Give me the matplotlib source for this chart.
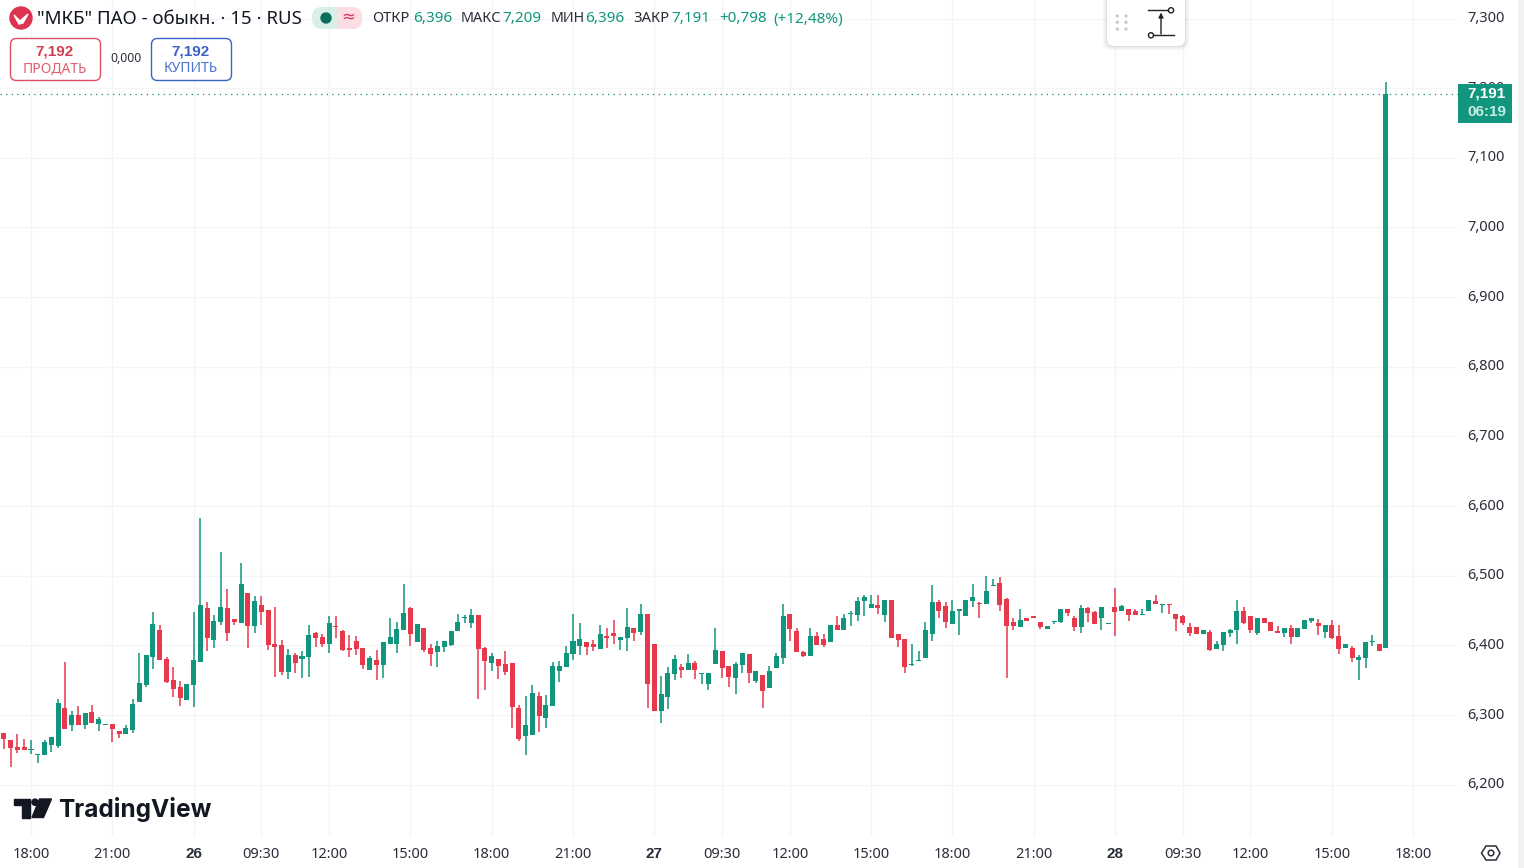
import numpy as np
import matplotlib
matplotlib.use('Agg')
from matplotlib import pyplot as plt
from matplotlib.patches import FancyBboxPatch, Circle, Polygon, Rectangle

plt.rcParams['font.family'] = ['Noto Sans', 'DejaVu Sans']

# prices in thousandths, one candle every 15 minutes
opens = [6274,6264,6254,6254,6250,6243,6243,6257,6255,6310,
         6286,6300,6286,6304,6287,6286,6287,6277,6273,6278,
         6319,6343,6383,6422,6380,6350,6340,6322,6343,6376,
         6454,6408,6433,6454,6438,6432,6475,6428,6458,6451,
         6402,6400,6362,6386,6380,6383,6418,6412,6402,6428,
         6420,6395,6406,6396,6365,6379,6372,6402,6402,6422,
         6453,6405,6425,6396,6390,6398,6400,6420,6439,6432,
         6443,6396,6375,6380,6373,6375,6310,6270,6272,6328,
         6296,6313,6363,6369,6388,6399,6405,6402,6395,6413,
         6418,6408,6410,6425,6419,6445,6402,6306,6326,6359,
         6369,6365,6375,6359,6345,6373,6392,6370,6353,6372,
         6388,6349,6358,6339,6368,6382,6445,6420,6390,6385,
         6413,6409,6405,6429,6422,6445,6443,6463,6453,6458,
         6443,6465,6416,6409,6372,6377,6382,6416,6462,6456,
         6430,6450,6442,6463,6460,6460,6485,6490,6466,6433,
         6426,6440,6441,6433,6423,6433,6433,6452,6439,6426,
         6453,6448,6439,6431,6455,6450,6452,6450,6444,6450,
         6463,6458,6459,6445,6442,6426,6426,6416,6419,6395,
         6400,6418,6422,6450,6442,6418,6439,6433,6420,6418,
         6425,6412,6423,6435,6432,6419,6429,6413,6396,6396,
         6379,6382,6405,6402,6396]
highs = [6274,6264,6273,6266,6264,6244,6264,6268,6323,6376,
         6306,6313,6303,6314,6297,6287,6287,6277,6286,6323,
         6389,6386,6448,6429,6383,6369,6349,6344,6448,6583,
         6462,6444,6534,6481,6438,6518,6475,6471,6471,6451,
         6455,6408,6395,6389,6392,6429,6419,6416,6442,6442,
         6422,6415,6413,6396,6385,6393,6405,6439,6433,6488,
         6455,6430,6425,6402,6406,6406,6420,6445,6443,6452,
         6444,6398,6389,6380,6392,6375,6315,6328,6343,6333,
         6329,6376,6378,6399,6445,6432,6405,6408,6429,6425,
         6436,6412,6453,6425,6460,6445,6402,6356,6369,6386,
         6373,6388,6378,6360,6360,6425,6392,6370,6376,6389,
         6388,6363,6358,6370,6389,6459,6445,6425,6392,6425,
         6419,6416,6429,6442,6445,6450,6470,6473,6473,6472,
         6465,6465,6416,6409,6402,6392,6433,6486,6465,6462,
         6465,6450,6465,6488,6462,6500,6496,6498,6468,6439,
         6452,6440,6441,6433,6428,6434,6452,6452,6442,6458,
         6455,6449,6455,6432,6483,6458,6452,6452,6452,6465,
         6473,6459,6459,6445,6443,6432,6426,6422,6422,6406,
         6419,6423,6465,6455,6442,6439,6439,6433,6428,6425,
         6429,6425,6436,6439,6438,6429,6436,6429,6402,6399,
         6386,6405,6415,6402,7209]
lows = [6251,6225,6246,6250,6244,6231,6243,6247,6253,6280,
        6277,6286,6280,6289,6277,6286,6261,6267,6273,6274,
        6319,6340,6366,6379,6346,6326,6313,6322,6311,6376,
        6392,6396,6429,6406,6429,6432,6396,6418,6429,6393,
        6355,6357,6352,6360,6353,6355,6398,6398,6389,6411,
        6392,6383,6386,6366,6365,6350,6353,6402,6389,6422,
        6399,6405,6390,6370,6369,6390,6399,6420,6432,6425,
        6323,6336,6363,6352,6358,6282,6263,6242,6272,6275,
        6282,6313,6348,6369,6379,6386,6386,6392,6395,6396,
        6402,6393,6392,6406,6415,6310,6306,6288,6308,6350,
        6353,6365,6352,6345,6336,6373,6353,6340,6330,6360,
        6346,6346,6310,6339,6368,6373,6406,6390,6383,6385,
        6400,6398,6405,6422,6422,6428,6435,6442,6453,6445,
        6433,6410,6398,6360,6370,6377,6382,6406,6439,6425,
        6430,6415,6442,6455,6440,6460,6485,6450,6353,6422,
        6426,6435,6440,6423,6423,6430,6432,6442,6420,6418,
        6433,6430,6422,6431,6413,6449,6435,6443,6444,6450,
        6459,6446,6445,6420,6429,6413,6416,6416,6392,6395,
        6392,6412,6402,6430,6418,6415,6432,6420,6418,6412,
        6402,6412,6423,6432,6415,6410,6409,6388,6396,6376,
        6350,6368,6399,6392,6396]
closes = [6266,6253,6250,6250,6251,6244,6261,6268,6317,6280,
          6300,6286,6303,6289,6294,6287,6280,6273,6281,6316,
          6346,6386,6431,6379,6347,6337,6324,6344,6379,6458,
          6411,6435,6455,6418,6433,6488,6428,6464,6448,6400,
          6398,6362,6386,6375,6385,6415,6411,6402,6432,6426,
          6393,6394,6395,6372,6382,6372,6405,6412,6423,6446,
          6416,6430,6393,6388,6399,6406,6420,6433,6441,6443,
          6395,6378,6385,6370,6362,6312,6265,6286,6332,6299,
          6315,6370,6370,6389,6406,6409,6398,6398,6416,6410,
          6413,6412,6426,6418,6445,6345,6306,6330,6360,6380,
          6365,6375,6365,6360,6360,6393,6368,6355,6373,6389,
          6360,6363,6335,6363,6385,6442,6423,6390,6385,6413,
          6400,6400,6429,6422,6439,6446,6463,6469,6459,6453,
          6465,6410,6408,6369,6373,6378,6422,6462,6450,6433,
          6449,6450,6465,6470,6459,6478,6486,6458,6428,6428,
          6436,6435,6440,6426,6428,6434,6452,6446,6426,6453,
          6446,6430,6455,6432,6448,6456,6443,6443,6445,6465,
          6459,6459,6458,6438,6432,6418,6416,6422,6393,6402,
          6419,6422,6450,6432,6422,6439,6432,6420,6418,6425,
          6412,6425,6436,6439,6428,6429,6410,6395,6402,6382,
          6383,6405,6406,6392,7191]

time_ticks = [4,16,28,38,48,60,72,84,96,106,116,128,140,152,164,174,184,196,208]
time_labels = ['18:00','21:00','26','09:30','12:00','15:00','18:00','21:00','27','09:30',
               '12:00','15:00','18:00','21:00','28','09:30','12:00','15:00','18:00']
price_ticks = [6.2,6.3,6.4,6.5,6.6,6.7,6.8,6.9,7.0,7.1,7.2,7.3]
price_labels = ['6,200','6,300','6,400','6,500','6,600','6,700','6,800','6,900','7,000','7,100','7,200','7,300']

GREEN = '#11967d'
RED = '#e6394c'
GRID = '#f3f4f6'
BOLD = ['Liberation Sans', 'DejaVu Sans']
W, H = 1524, 868

o = np.array(opens) / 1000
h = np.array(highs) / 1000
l = np.array(lows) / 1000
c = np.array(closes) / 1000
x = np.arange(len(o))
colors = [GREEN if cl >= op else RED for op, cl in zip(o, c)]

fig = plt.figure(figsize=(W / 100, H / 100), dpi=100, facecolor='white')
ax = fig.add_axes([0, 1 - 836 / H, 1458 / W, 836 / H])
ax.set_xlim(-0.576, 214.63)
ax.set_ylim(6.1263, 7.3266)
for s in ax.spines.values():
    s.set_visible(False)
ax.grid(True, color=GRID, lw=0.9)
ax.set_axisbelow(True)

ax.vlines(x, l, h, colors=colors, lw=1.1, zorder=2)
ax.bar(x, np.maximum(np.abs(c - o), 0.0016), bottom=np.minimum(o, c), width=0.74, color=colors, zorder=3)
ax.axhline(c[-1], color='#0f8a73', lw=0.9, ls=(0, (1, 3.5)), zorder=1)

ax.set_xticks(time_ticks, time_labels)
ax.yaxis.tick_right()
ax.set_yticks(price_ticks, price_labels)
ax.tick_params(axis='both', length=0, labelsize=10.5, labelcolor='#2a2e39')
ax.tick_params(axis='x', pad=8)
ax.tick_params(axis='y', pad=7)
for lab in ax.get_yticklabels():
    lab.set_verticalalignment('center')
for lab, txt in zip(ax.get_xticklabels(), time_labels):
    if len(txt) == 2:
        lab.set_family(BOLD)
        lab.set_fontweight('bold')
        lab.set_fontsize(11)

# overlay in pixel coordinates for the TradingView furniture
ui = fig.add_axes([0, 0, 1, 1], zorder=5)
ui.set_xlim(0, W)
ui.set_ylim(H, 0)
ui.axis('off')
ui.patch.set_alpha(0)


def label(px, py, s, size=11, color='#2a2e39', ha='left', **kw):
    ui.text(px, py, s, fontsize=size, color=color, ha=ha, va='center', **kw)


def round_box(x0, y0, x1, y1, r, **kw):
    ui.add_patch(FancyBboxPatch((x0 + r, y0 + r), x1 - x0 - 2 * r, y1 - y0 - 2 * r,
                                boxstyle='round,pad=%g,rounding_size=%g' % (r, r), **kw))


# header
ui.add_patch(Circle((21, 18), 11, color='#dc3350'))
ui.add_patch(Polygon([(14, 15), (20, 21), (28, 14), (23, 23), (19, 24)], color='white'))
label(37, 19, '"МКБ" ПАО - обыкн. · 15 · RUS', size=13.45, color='#131722')

round_box(312, 7, 362, 29, 10, fc='#d7eee9', ec='none')
ui.add_patch(FancyBboxPatch((337, 17), 15, 2, boxstyle='round,pad=10,rounding_size=10', fc='#fbdde3', ec='none'))
ui.add_patch(Rectangle((312 + 18, 7), 7, 22, fc='#d7eee9', ec='none'))
ui.add_patch(Circle((326, 18), 5, color='#0b6e5c'))
label(348, 17, '≈', size=12, color='#d6365a', ha='center')

label(372, 19, 'ОТКР', size=10.6)
label(413, 19, '6,396', color=GREEN)
label(461, 19, 'МАКС', size=10.4)
label(502, 19, '7,209', color=GREEN)
label(551, 19, 'МИН', size=10.2)
label(585, 19, '6,396', color=GREEN)
label(633, 19, 'ЗАКР', size=10.6)
label(671, 19, '7,191', color=GREEN)
label(719, 19, '+0,798', color=GREEN)
label(773, 19, '(+12,48%)', color=GREEN)

# buy / sell buttons
round_box(10.5, 38.5, 100.5, 80.5, 6, fc='white', ec='#d9505f', lw=1)
label(55, 51, '7,192', size=11, color='#d43d4f', ha='center', fontweight='bold', family=BOLD)
label(55, 68.5, 'ПРОДАТЬ', size=10, color='#e0606e', ha='center')
label(126, 59, '0,000', size=8.8, ha='center')
round_box(151.5, 38.5, 231.5, 80.5, 6, fc='white', ec='#3a62c4', lw=1)
label(191, 51, '7,192', size=11, color='#3a62c4', ha='center', fontweight='bold', family=BOLD)
label(191, 68.5, 'КУПИТЬ', size=10, color='#4d74d0', ha='center')

# floating drawing toolbar
for grow, alpha in ((4, 0.03), (2.5, 0.04), (1, 0.06)):
    round_box(1107 - grow, -10, 1185 + grow, 46 + grow, 7, fc='black', ec='none', alpha=alpha)
round_box(1107, -10, 1185, 46, 7, fc='white', ec='none')
for dx in (1117.3, 1126):
    for dy in (16, 22.3, 29):
        ui.add_patch(Circle((dx, dy), 1.0, color='#c8cad0'))
ui.plot([1148, 1168], [10.3, 10.3], color='#222', lw=1)
ui.plot([1153, 1174], [35.3, 35.3], color='#222', lw=1)
ui.add_patch(Circle((1171, 10.3), 2.6, fc='white', ec='#222', lw=1))
ui.add_patch(Circle((1151, 35.3), 2.6, fc='white', ec='#222', lw=1))
ui.annotate('', xy=(1161, 12.5), xytext=(1161, 34), arrowprops=dict(arrowstyle='-|>', color='#222', lw=1, mutation_scale=7, shrinkA=0, shrinkB=0))

# last price tag
ui.add_patch(Rectangle((1458, 84), 54, 39, fc=GREEN, ec='none'))
label(1487, 94, '7,191', size=11, color='white', ha='center', fontweight='bold', family=BOLD)
label(1487, 112, '06:19', size=11, color='#c8ebe3', ha='center', fontweight='bold', family=BOLD)

# right edge strip
ui.add_patch(Rectangle((1518, 0), 6, H, fc='#f0f1f3', ec='none'))

# TradingView logo
ui.add_patch(Polygon([(14, 799), (30, 799), (30, 817.5), (22, 817.5), (22, 805), (14, 805)], color='#131722'))
ui.add_patch(Circle((35, 802.2), 3.1, color='#131722'))
ui.add_patch(Polygon([(39.5, 799), (51.5, 799), (43.5, 817.5), (32, 817.5)], color='#131722'))
label(58.5, 809, 'TradingView', size=17.6, color='#131722', family=['Inter', 'DejaVu Sans'], fontweight='bold')

# settings hexagon
ui.add_patch(Polygon([(1481.5, 853), (1486, 846), (1496, 846), (1500, 853), (1496, 860), (1486, 860)],
                     fc='white', ec='#2a2e39', lw=1.1))
ui.add_patch(Circle((1491, 853), 2.8, fc='white', ec='#2a2e39', lw=1.1))

fig.savefig('out.png', dpi=100)
